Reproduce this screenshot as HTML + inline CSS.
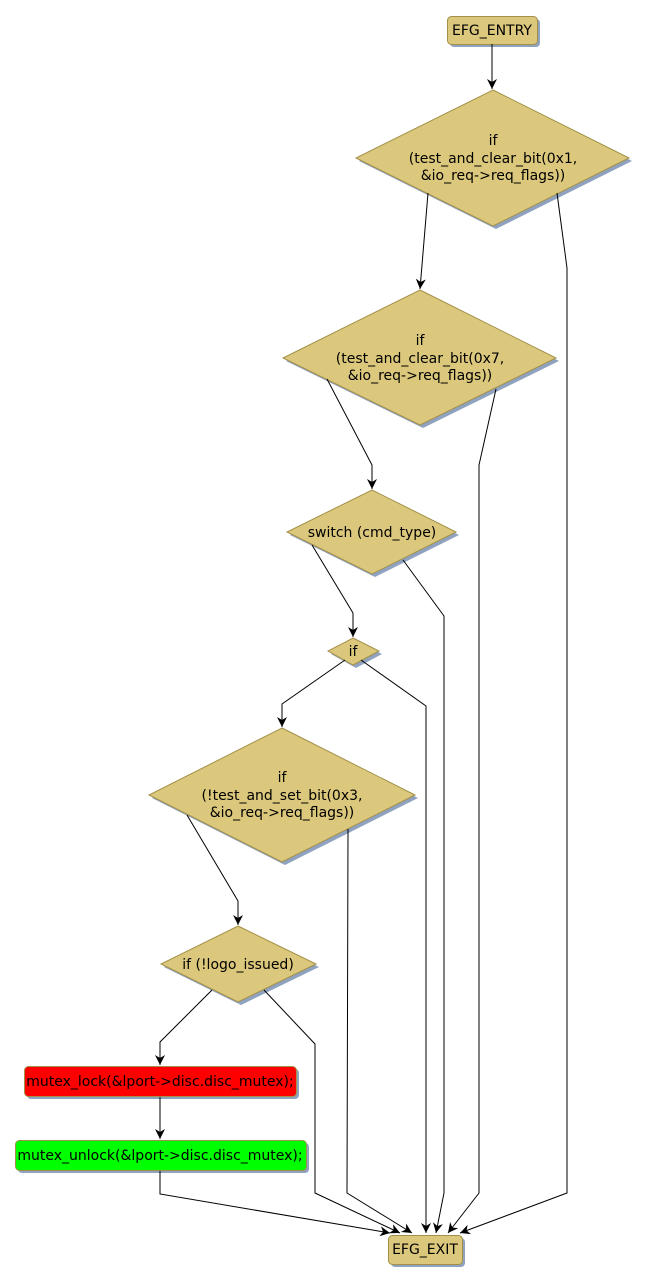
<!DOCTYPE html>
<html><head><meta charset="utf-8"><style>
html,body{margin:0;padding:0;background:#fff;}
svg{display:block;}
text{font-family:"DejaVu Sans","Liberation Sans",sans-serif;font-size:14px;fill:#000;}
</style></head><body>
<svg width="648" height="1283" viewBox="0 0 648 1283" xmlns="http://www.w3.org/2000/svg">
<defs>
<marker id="a" markerWidth="12" markerHeight="12" refX="10" refY="5" orient="auto" markerUnits="userSpaceOnUse">
<path d="M0,0 L10,5 L0,10 L3,5 Z" fill="#000"/>
</marker>
</defs>
<g fill="#8fa2c0">
<rect x="450" y="19" width="90" height="28" rx="4"/>
<polygon points="496,93 632,161 496,229 359,161"/>
<polygon points="423,293 559,361 423,428 286,361"/>
<polygon points="375,493 459,535 375,577 290,535"/>
<polygon points="356,641 382,654 356,668 331,654"/>
<polygon points="285,731 418,798 285,865 152,798"/>
<polygon points="241,929 319,967 241,1005 164,967"/>
<rect x="27" y="1069" width="272" height="30" rx="4"/>
<rect x="18" y="1143" width="291" height="30" rx="4"/>
<rect x="391" y="1238" width="74" height="29" rx="4"/>
</g>
<g fill="#dcc87c" stroke="#a39048" stroke-width="1">
<rect x="447.5" y="16.5" width="90" height="28" rx="4"/>
<polygon points="493,90 629,158 493,226 356,158"/>
<polygon points="420,290 556,358 420,425 283,358"/>
<polygon points="372,490 456,532 372,574 287,532"/>
<polygon points="353,638 379,651 353,665 328,651"/>
<polygon points="282,728 415,795 282,862 149,795"/>
<polygon points="238,926 316,964 238,1002 161,964"/>
<rect x="388.5" y="1235.5" width="74" height="29" rx="4"/>
</g>
<rect x="24.5" y="1066.5" width="272" height="30" rx="4" fill="#ff0000" stroke="#a39048"/>
<rect x="15.5" y="1140.5" width="291" height="30" rx="4" fill="#00ff00" stroke="#a39048"/>
<g fill="none" stroke="#000" stroke-width="1">
<path d="M492,44 V89" marker-end="url(#a)"/>
<path d="M428,193 L420,289" marker-end="url(#a)"/>
<path d="M557,193 L567,268 V1193 L460,1233" marker-end="url(#a)"/>
<path d="M327,379 L372,465 V489" marker-end="url(#a)"/>
<path d="M496,389 L479,465 V1193 L448,1233" marker-end="url(#a)"/>
<path d="M312,545 L353,613 V637" marker-end="url(#a)"/>
<path d="M403,560 L444,616 V1193 L436,1233" marker-end="url(#a)"/>
<path d="M345,660 L282,704 V727" marker-end="url(#a)"/>
<path d="M361,660 L426,706 V1233" marker-end="url(#a)"/>
<path d="M187,815 L238,901 V925" marker-end="url(#a)"/>
<path d="M348,829 L347,1193 L412,1233" marker-end="url(#a)"/>
<path d="M212,990 L160,1042 V1065" marker-end="url(#a)"/>
<path d="M264,990 L315,1044 V1193 L400,1233" marker-end="url(#a)"/>
<path d="M160,1097 V1139" marker-end="url(#a)"/>
<path d="M160,1171 V1194 L390,1233" marker-end="url(#a)"/>
</g>
<g text-anchor="middle">
<text x="492" y="35">EFG_ENTRY</text>
<text x="493" y="145">if</text>
<text x="493" y="163">(test_and_clear_bit(0x1,</text>
<text x="493" y="180">&amp;io_req-&gt;req_flags))</text>
<text x="420" y="345">if</text>
<text x="420" y="363">(test_and_clear_bit(0x7,</text>
<text x="420" y="380">&amp;io_req-&gt;req_flags))</text>
<text x="372" y="537">switch (cmd_type)</text>
<text x="353" y="656">if</text>
<text x="282" y="782">if</text>
<text x="282" y="800">(!test_and_set_bit(0x3,</text>
<text x="282" y="817">&amp;io_req-&gt;req_flags))</text>
<text x="238" y="969">if (!logo_issued)</text>
<text x="160" y="1086">mutex_lock(&amp;lport-&gt;disc.disc_mutex);</text>
<text x="160" y="1160">mutex_unlock(&amp;lport-&gt;disc.disc_mutex);</text>
<text x="425" y="1254">EFG_EXIT</text>
</g>
</svg>
</body></html>
